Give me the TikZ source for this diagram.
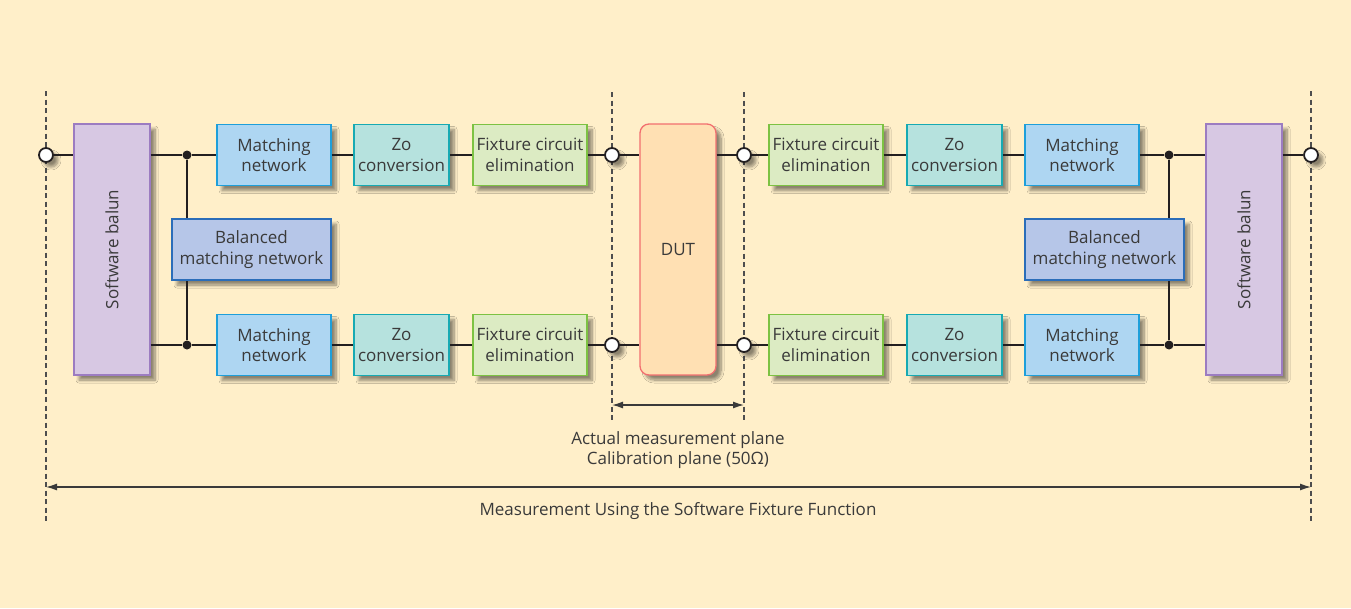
\documentclass[tikz,border=0pt]{standalone}
\usepackage{fontspec}
\setmainfont{Open Sans}
\usetikzlibrary{arrows.meta,shadows.blur}

\definecolor{bgcream}{HTML}{FFEFC9}
\definecolor{inkgray}{HTML}{3A3A3A}
\definecolor{wire}{HTML}{231F20}
\definecolor{balunfill}{HTML}{D7C8E3}
\definecolor{balundraw}{HTML}{9C7CC1}
\definecolor{matchfill}{HTML}{AED6F2}
\definecolor{matchdraw}{HTML}{1E9FDA}
\definecolor{zofill}{HTML}{B6E2DE}
\definecolor{zodraw}{HTML}{17AAB3}
\definecolor{fixfill}{HTML}{DCEBC3}
\definecolor{fixdraw}{HTML}{7DC243}
\definecolor{balfill}{HTML}{B6C6E8}
\definecolor{baldraw}{HTML}{2B6DB9}
\definecolor{dutfill}{HTML}{FFE0B3}
\definecolor{dutdraw}{HTML}{F26F6F}

\begin{document}
\begin{tikzpicture}[x=1pt, y=-1pt,
    softshadow/.style={blur shadow={shadow xshift=5pt, shadow yshift=-5pt, shadow opacity=45, shadow blur steps=8, shadow blur radius=3pt}},
    box/.style={draw, line width=1.3pt, minimum height=61pt, inner sep=0pt, align=center,
        text=inkgray, font=\fontsize{17}{20.5}\selectfont, softshadow},
    balunbox/.style={box, fill=balunfill, draw=balundraw, minimum width=76pt, minimum height=251pt},
    matchbox/.style={box, fill=matchfill, draw=matchdraw, minimum width=114pt},
    zobox/.style={box, fill=zofill, draw=zodraw, minimum width=95pt},
    fixbox/.style={box, fill=fixfill, draw=fixdraw, minimum width=114pt},
    balbox/.style={box, fill=balfill, draw=baldraw, minimum width=159pt},
    port/.style={draw=wire, circle, fill=white, line width=1.8pt, minimum size=14pt, inner sep=0pt, softshadow},
    junction/.style={circle, fill=wire, minimum size=9pt, inner sep=0pt},
    wireline/.style={draw=wire, line width=2.8pt},
    guide/.style={draw=inkgray!90, line width=1.1pt, dash pattern=on 5pt off 3.5pt},
    dimline/.style={draw=inkgray, line width=1.3pt, {Latex[length=11pt,width=7pt]}-{Latex[length=11pt,width=7pt]}},
    note/.style={text=inkgray, align=center, font=\fontsize{17}{19.5}\selectfont}]

        \fill[bgcream] (0,0) rectangle (1351,608);

        % reference planes
        \draw [guide] (46,91) -- (46,523);
        \draw [guide] (1311,91) -- (1311,523);
        \draw [guide] (612,92) -- (612,423);
        \draw [guide] (744,92) -- (744,423);

        % left half
        \node[balunbox] (balunl) at (112,249.5) {\rotatebox{90}{Software balun}};
        \node[matchbox] (matchtl) at (274,155) {Matching\\network};
        \node[zobox] (zotl) at ([xshift=127.5pt]matchtl.center) {Zo\\conversion};
        \node[fixbox] (fixtl) at ([xshift=128.5pt]zotl.center) {Fixture circuit\\elimination};
        \node[matchbox] (matchbl) at (274,345) {Matching\\network};
        \node[zobox] (zobl) at ([xshift=127.5pt]matchbl.center) {Zo\\conversion};
        \node[fixbox] (fixbl) at ([xshift=128.5pt]zobl.center) {Fixture circuit\\elimination};
        \node[balbox] (ballm) at (251.5,249.5) {Balanced\\matching network};

        % DUT
        \node[box, fill=dutfill, draw=dutdraw, rounded corners=9pt, minimum width=76pt, minimum height=251pt] (dut) at (678,249.5) {DUT};

        % right half
        \node[fixbox] (fixtr) at (826,155) {Fixture circuit\\elimination};
        \node[zobox] (zotr) at ([xshift=128.5pt]fixtr.center) {Zo\\conversion};
        \node[matchbox] (matchtr) at ([xshift=127.5pt]zotr.center) {Matching\\network};
        \node[fixbox] (fixbr) at (826,345) {Fixture circuit\\elimination};
        \node[zobox] (zobr) at ([xshift=128.5pt]fixbr.center) {Zo\\conversion};
        \node[matchbox] (matchbr) at ([xshift=127.5pt]zobr.center) {Matching\\network};
        \node[balbox] (balrm) at (1104.5,249.5) {Balanced\\matching network};
        \node[balunbox] (balunr) at (1244,249.5) {\rotatebox{90}{Software balun}};

        % ports and junctions
        \node[port] (portl) at (46,155) {};
        \node[port] (portr) at (1311,155) {};
        \node[port] (ctl) at (612,155) {};
        \node[port] (cbl) at (612,345) {};
        \node[port] (ctr) at (744,155) {};
        \node[port] (cbr) at (744,345) {};
        \node[junction] (jtl) at (187,155) {};
        \node[junction] (jbl) at (187,345) {};
        \node[junction] (jtr) at (1169,155) {};
        \node[junction] (jbr) at (1169,345) {};

        % wiring, left
        \draw [wireline] (portl) -- (balunl.west |- portl);
        \draw [wireline] (balunl.east |- jtl) -- (jtl) -- (matchtl);
        \draw [wireline] (balunl.east |- jbl) -- (jbl) -- (matchbl);
        \draw [wireline] (jtl) -- (jtl |- ballm.north);
        \draw [wireline] (jbl) -- (jbl |- ballm.south);
        \draw [wireline] (matchtl) -- (zotl);
        \draw [wireline] (zotl) -- (fixtl);
        \draw [wireline] (fixtl) -- (ctl);
        \draw [wireline] (ctl) -- (dut.west |- ctl);
        \draw [wireline] (matchbl) -- (zobl);
        \draw [wireline] (zobl) -- (fixbl);
        \draw [wireline] (fixbl) -- (cbl);
        \draw [wireline] (cbl) -- (dut.west |- cbl);

        % wiring, right
        \draw [wireline] (dut.east |- ctr) -- (ctr);
        \draw [wireline] (ctr) -- (fixtr);
        \draw [wireline] (fixtr) -- (zotr);
        \draw [wireline] (zotr) -- (matchtr);
        \draw [wireline] (matchtr) -- (jtr) -- (balunr.west |- jtr);
        \draw [wireline] (dut.east |- cbr) -- (cbr);
        \draw [wireline] (cbr) -- (fixbr);
        \draw [wireline] (fixbr) -- (zobr);
        \draw [wireline] (zobr) -- (matchbr);
        \draw [wireline] (matchbr) -- (jbr) -- (balunr.west |- jbr);
        \draw [wireline] (jtr) -- (jtr |- balrm.north);
        \draw [wireline] (jbr) -- (jbr |- balrm.south);
        \draw [wireline] (balunr.east |- portr) -- (portr);

        % dimensions
        \draw [dimline] ([yshift=-250pt]ctl.center) -- ([yshift=-250pt]ctr.center);
        \node[note] (planes) at (678,450) {Actual measurement plane\\Calibration plane (50Ω)};
        \draw [dimline] ([yshift=-332pt]portl.center) -- ([yshift=-332pt]portr.center);
        \node[note] (whole) at (678,511) {Measurement Using the Software Fixture Function};

    \end{tikzpicture}
\end{document}
